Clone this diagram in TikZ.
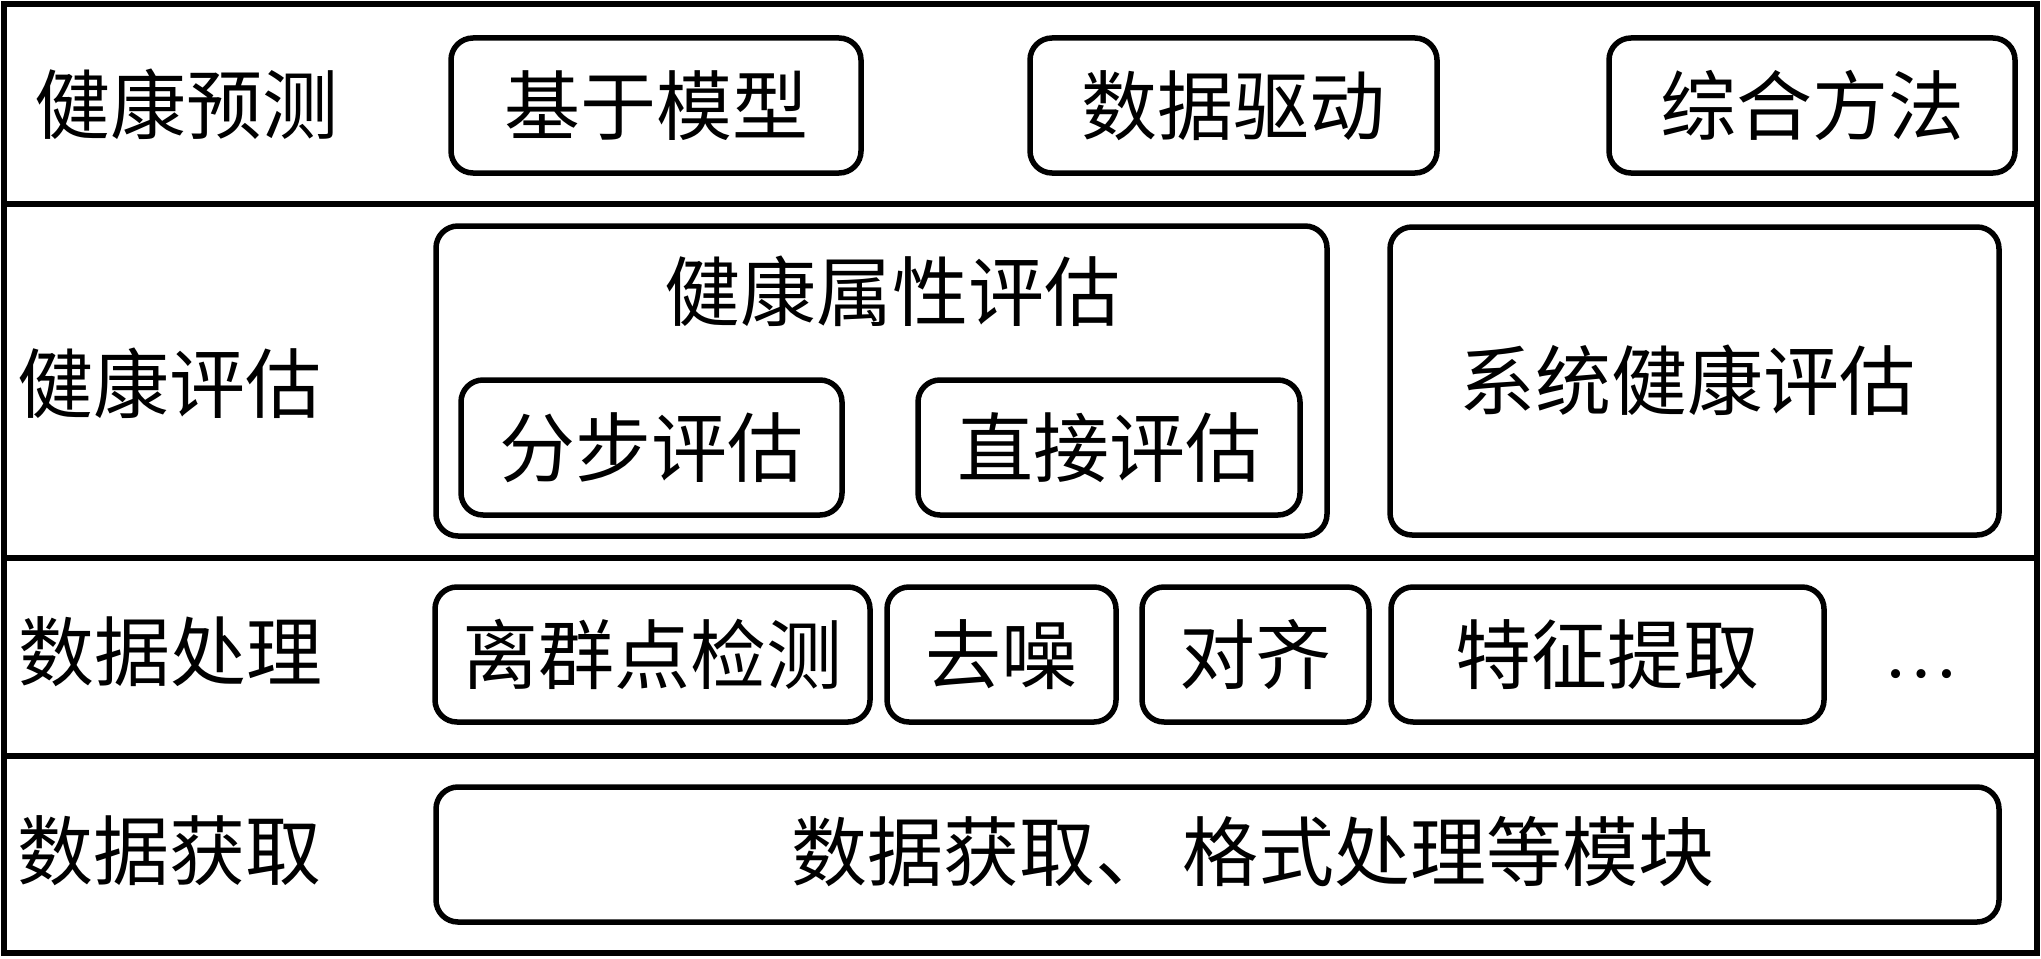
\documentclass[tikz,border=0pt]{standalone}
\usepackage{fontspec}
\newfontfamily\cjk{Noto Sans CJK SC}
\newfontfamily\latinf{Liberation Serif}
\tikzset{
  frameline/.style={line width=6pt},
  rbox/.style={draw, line width=5.5pt, rounded corners=22pt, inner sep=0pt,
    font=\cjk\fontsize{76}{80}\selectfont},
  txt/.style={inner sep=0pt, font=\cjk\fontsize{76}{80}\selectfont},
}
\begin{document}
\begin{tikzpicture}[x=1pt,y=-1pt]
\useasboundingbox (0,0) rectangle (2041,958);
% frame and row separators
\draw[frameline] (4,4) rectangle (2037,953);
\draw[frameline] (4,203.5) -- (2037,203.5);
\draw[frameline] (4,558) -- (2037,558);
\draw[frameline] (4,755.5) -- (2037,755.5);
% row labels
\node[txt] (l1) at (186.5,104) {健康预测};
\node[txt] (l2) at (169.5,383) {健康评估};
\node[txt] (l3) at (170.5,652) {数据处理};
\node[txt] (l4) at (169.5,851) {数据获取};
% row 1
\node[rbox, minimum width=410, minimum height=135] (p1) at (656,105.5) {基于模型};
\node[rbox, minimum width=407, minimum height=135] (p2) at (1233.5,105.5) {数据驱动};
\node[rbox, minimum width=406, minimum height=135] (p3) at (1812,105.5) {综合方法};
% row 2
\node[rbox, minimum width=891, minimum height=310] (a0) at (881.5,381) {};
\node[txt] (a0t) at (892.5,291) {健康属性评估};
\node[rbox, minimum width=381, minimum height=135] (a1) at (651.5,447.5) {分步评估};
\node[rbox, minimum width=382, minimum height=135] (a2) at (1109,447.5) {直接评估};
\node[rbox, minimum width=609, minimum height=308] (s0) at (1694.5,381) {};
\node[txt] (s0t) at (1687.5,380) {系统健康评估};
% row 3
\node[rbox, minimum width=435, minimum height=135] (d1) at (652.5,654.5) {离群点检测};
\node[rbox, minimum width=229, minimum height=135] (d2) at (1001.5,654.5) {去噪};
\node[rbox, minimum width=227, minimum height=135] (d3) at (1255.5,654.5) {对齐};
\node[rbox, minimum width=433, minimum height=135] (d4) at (1607.5,654.5) {特征提取};
\node[inner sep=0pt, anchor=base, font=\latinf\fontsize{76}{80}\selectfont] (d5) at (1921,677) {…};
% row 4
\node[rbox, minimum width=1563, minimum height=135] (g1) at (1217.5,854.5) {};
\node[txt] (g1t) at (1253,852) {数据获取、\hspace{12pt}格式处理等模块};
\end{tikzpicture}
\end{document}
